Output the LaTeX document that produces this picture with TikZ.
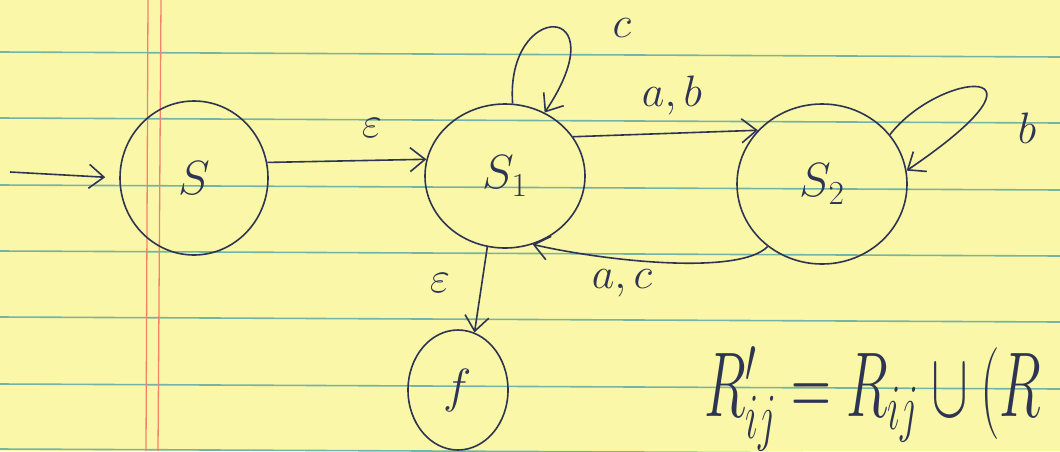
\RequirePackage{fix-cm}
\documentclass[tikz,border=0pt]{standalone}
\usetikzlibrary{shapes.geometric,arrows.meta}
\definecolor{paper}{HTML}{FBF7A8}
\definecolor{rulec}{HTML}{74B4A6}
\definecolor{marginc}{HTML}{F2826E}
\definecolor{ink}{HTML}{2E3552}
\begin{document}
\begin{tikzpicture}[x=1pt,y=-1pt,
  state/.style={ellipse,draw=ink,line width=1.6pt,inner sep=0pt,text=ink,font=\fontsize{48}{52}\selectfont},
  pen/.style={draw=ink,line width=1.6pt,-{Straight Barb[length=15pt,width=24pt,line width=1.6pt]}},
  lbl/.style={text=ink,font=\fontsize{44}{48}\selectfont,inner sep=0pt}]
\useasboundingbox (0,0) rectangle (1060,451);
\clip (0,0) rectangle (1060,451);
\fill[paper] (0,0) rectangle (1060,451);
\foreach \y in {52,118,185,251,317,384,449}{\draw[rulec,line width=1.6pt] (0,\y) -- (1060,\y+5);}
\draw[marginc,line width=1.3pt] (148,0) -- (146,451);
\draw[marginc,line width=1.3pt] (161,0) -- (158,451);
% states
\node[state,minimum width=148pt,minimum height=154pt] (s) at (194,178) {$S$};
\node[state,minimum width=160pt,minimum height=144pt] (s1) at (505,176) {$S_1$};
\node[state,minimum width=170pt,minimum height=160pt] (s2) at (822,184) {$S_2$};
\node[state,minimum width=100pt,minimum height=120pt] (f) at (458,390) {$f$};
% start
\coordinate (start) at (10,172);
\draw[pen,shorten >=14pt] (start) -- (s.west);
% transitions
\draw[pen] (s.12) -- (s1.168);
\node[lbl] (e1) at (372,128) {$\varepsilon$};
\draw[pen] (s1.84) .. controls (505,0) and (620,0) .. (s1.58);
\node[lbl] (lc) at (622,28) {$c$};
\draw[pen] (s1.30) -- (s2.140);
\node[lbl] (lab) at (672,95) {$a,b$};
\draw[pen] (s2.229) .. controls (740,275) and (610,262) .. (s1.292);
\node[lbl] (lac) at (622,283) {$a,c$};
\draw[pen] (s2.36) .. controls (940,70) and (1070,60) .. (s2.9);
\node[lbl] (lb) at (1027,128) {$b$};
\draw[pen] (s1.256) -- (f.74);
\node[lbl] (e2) at (440,283) {$\varepsilon$};
% formula
\node[text=ink,anchor=base west,inner sep=0pt,xscale=0.6,font=\fontsize{92}{96}\selectfont] (formula) at (704,416) {$R'_{ij}=R_{ij}\cup(R$};
\end{tikzpicture}
\end{document}
